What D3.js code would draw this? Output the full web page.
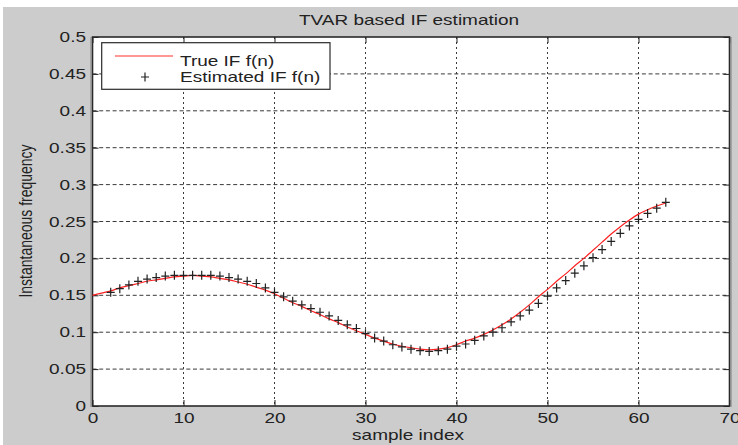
<!DOCTYPE html>
<html>
<head>
<meta charset="utf-8">
<script src="https://cdn.jsdelivr.net/npm/d3@7"></script>
<style>
  html, body { margin: 0; padding: 0; background: #ffffff; }
  svg { display: block; }
  text { font-family: "Liberation Sans", Arial, Helvetica, sans-serif; }
</style>
</head>
<body>
<div id="chart"></div>
<script>
// ---------------- data ----------------
const chartTitle = "TVAR based IF estimation";
const xLabel = "sample index";
const yLabel = "Instantaneous frequency";
const legendLabels = ["True IF f(n)", "Estimated IF f(n)"];

const xTicks = [0, 10, 20, 30, 40, 50, 60, 70];
const yTicks = [0, 0.05, 0.1, 0.15, 0.2, 0.25, 0.3, 0.35, 0.4, 0.45, 0.5];
const yTickLabels = ["0", "0.05", "0.1", "0.15", "0.2", "0.25", "0.3", "0.35", "0.4", "0.45", "0.5"];

// true IF, sample index 0..63
const trueStart = 0;
const trueIF = [
  0.150, 0.153, 0.156, 0.160, 0.163, 0.166, 0.169, 0.171, 0.173, 0.175,
  0.176, 0.177, 0.176, 0.175, 0.173, 0.171, 0.168, 0.165, 0.161, 0.157,
  0.152, 0.146, 0.140, 0.135, 0.129, 0.124, 0.118, 0.113, 0.107, 0.102,
  0.097, 0.092, 0.088, 0.084, 0.081, 0.079, 0.077, 0.076, 0.077, 0.079,
  0.083, 0.088, 0.092, 0.097, 0.103, 0.110, 0.118, 0.127, 0.137, 0.148,
  0.158, 0.169, 0.179, 0.190, 0.200, 0.211, 0.222, 0.233, 0.243, 0.252,
  0.260, 0.266, 0.271, 0.275
];

// estimated IF, sample index 2..63
const estStart = 2;
const estIF = [
  0.154, 0.159, 0.164, 0.169, 0.172, 0.174, 0.176, 0.177,
  0.177, 0.177, 0.177, 0.177, 0.176, 0.174, 0.172, 0.169, 0.166, 0.160,
  0.154, 0.148, 0.142, 0.137, 0.132, 0.127, 0.122, 0.116, 0.110, 0.105,
  0.098, 0.092, 0.088, 0.083, 0.080, 0.077, 0.075, 0.074, 0.075, 0.077,
  0.081, 0.084, 0.089, 0.095, 0.100, 0.106, 0.114, 0.122, 0.130, 0.139,
  0.149, 0.160, 0.170, 0.180, 0.190, 0.201, 0.212, 0.223, 0.234, 0.244,
  0.253, 0.261, 0.268, 0.276
];

// ---------------- layout ----------------
const W = 738, H = 445;
const pL = 92.5, pR = 729.5, pT = 37, pB = 406;
const FS = 14, SX = 1.357; // font-size and horizontal stretch of text

const svg = d3.select("#chart").append("svg").attr("width", W).attr("height", H);

// figure background
svg.append("rect").attr("x", 3).attr("y", 7).attr("width", W - 3).attr("height", H - 7).attr("fill", "#cccccc");

const x = d3.scaleLinear().domain([0, 70]).range([pL, pR]);
const y = d3.scaleLinear().domain([0, 0.5]).range([pB, pT]);

// axes background
svg.append("rect").attr("x", pL).attr("y", pT).attr("width", pR - pL).attr("height", pB - pT).attr("fill", "#ffffff");

// grid
const gridColor = "#3a3a3a";
svg.append("g").selectAll("line").data(xTicks.filter(d => d > 0 && d < 70)).join("line")
  .attr("x1", d => x(d)).attr("x2", d => x(d)).attr("y1", pT).attr("y2", pB)
  .attr("stroke", gridColor).attr("stroke-width", 1).attr("stroke-dasharray", "2,3");
svg.append("g").selectAll("line").data(yTicks.filter(d => d > 0 && d < 0.5)).join("line")
  .attr("x1", pL).attr("x2", pR).attr("y1", d => y(d)).attr("y2", d => y(d))
  .attr("stroke", gridColor).attr("stroke-width", 1).attr("stroke-dasharray", "4,2.7");

// axes with ticks
function styleAxis(g) {
  g.select(".domain").remove();
  g.selectAll(".tick line").attr("stroke", "#222").attr("stroke-width", 1);
}
const textColor = "#222";

const gx = svg.append("g").attr("transform", `translate(0,${pB})`)
  .call(d3.axisBottom(x).tickValues(xTicks).tickSize(-6).tickFormat(d3.format("d")));
styleAxis(gx);
gx.selectAll(".tick text").attr("y", null).attr("dy", null)
  .attr("font-size", FS).attr("fill", textColor)
  .attr("transform", `translate(0,17) scale(${SX},1)`);

const gxt = svg.append("g").attr("transform", `translate(0,${pT})`)
  .call(d3.axisTop(x).tickValues(xTicks).tickSize(-6).tickFormat(""));
styleAxis(gxt);

const gy = svg.append("g").attr("transform", `translate(${pL},0)`)
  .call(d3.axisLeft(y).tickValues(yTicks).tickSize(-6).tickFormat((d, i) => yTickLabels[i]));
styleAxis(gy);
gy.selectAll(".tick text").attr("x", null).attr("dy", null)
  .attr("font-size", FS).attr("fill", textColor).attr("text-anchor", "end")
  .attr("transform", `translate(-6.5,4.5) scale(${SX},1)`);

const gyr = svg.append("g").attr("transform", `translate(${pR},0)`)
  .call(d3.axisRight(y).tickValues(yTicks).tickSize(-6).tickFormat(""));
styleAxis(gyr);

// axes box
svg.append("rect").attr("x", pL).attr("y", pT).attr("width", pR - pL).attr("height", pB - pT)
  .attr("fill", "none").attr("stroke", "#2a2a2a").attr("stroke-width", 1.6);
svg.append("line").attr("x1", pL - 1.5).attr("x2", pL - 1.5).attr("y1", pT).attr("y2", pB + 1)
  .attr("stroke", "#8a8a8a").attr("stroke-width", 1.2);
svg.append("line").attr("x1", pR + 1.5).attr("x2", pR + 1.5).attr("y1", pT).attr("y2", pB + 1)
  .attr("stroke", "#8a8a8a").attr("stroke-width", 1.2);

// true IF line
const line = d3.line().x((d, i) => x(i + trueStart)).y(d => y(d)).curve(d3.curveMonotoneX);
svg.append("path").datum(trueIF).attr("d", line)
  .attr("fill", "none").attr("stroke", "#ff2020").attr("stroke-width", 1.2);

// estimated IF pluses
const plus = "M-4,0H4M0,-4.5V4.5";
svg.append("g").selectAll("path").data(estIF).join("path")
  .attr("transform", (d, i) => `translate(${x(i + estStart)},${y(d)})`)
  .attr("d", plus).attr("fill", "none").attr("stroke", "#222").attr("stroke-width", 1.2);

// legend
const lg = svg.append("g");
lg.append("rect").attr("x", 101.7).attr("y", 42.7).attr("width", 228.3).attr("height", 46.6)
  .attr("fill", "#ffffff").attr("stroke", "#2a2a2a").attr("stroke-width", 1.2);
lg.append("line").attr("x1", 115).attr("x2", 173).attr("y1", 56).attr("y2", 56)
  .attr("stroke", "#ff3030").attr("stroke-width", 1.2);
lg.append("path").attr("d", plus).attr("transform", "translate(145,77)")
  .attr("fill", "none").attr("stroke", "#222").attr("stroke-width", 1.2);
lg.selectAll("text").data(legendLabels).join("text")
  .attr("transform", (d, i) => `translate(180,${i === 0 ? 65.5 : 82}) scale(${SX},1)`)
  .attr("font-size", FS).attr("fill", textColor).text(d => d);

// title and labels
svg.append("text").attr("transform", `translate(409,25) scale(${SX},1)`)
  .attr("text-anchor", "middle").attr("font-size", FS).attr("fill", textColor).text(chartTitle);
svg.append("text").attr("transform", `translate(408,440) scale(${SX},1)`)
  .attr("text-anchor", "middle").attr("font-size", FS).attr("fill", textColor).text(xLabel);
svg.append("text").attr("transform", `translate(32,221) rotate(-90) scale(1,${SX})`)
  .attr("text-anchor", "middle").attr("font-size", FS).attr("fill", textColor).text(yLabel);
</script>
</body>
</html>
